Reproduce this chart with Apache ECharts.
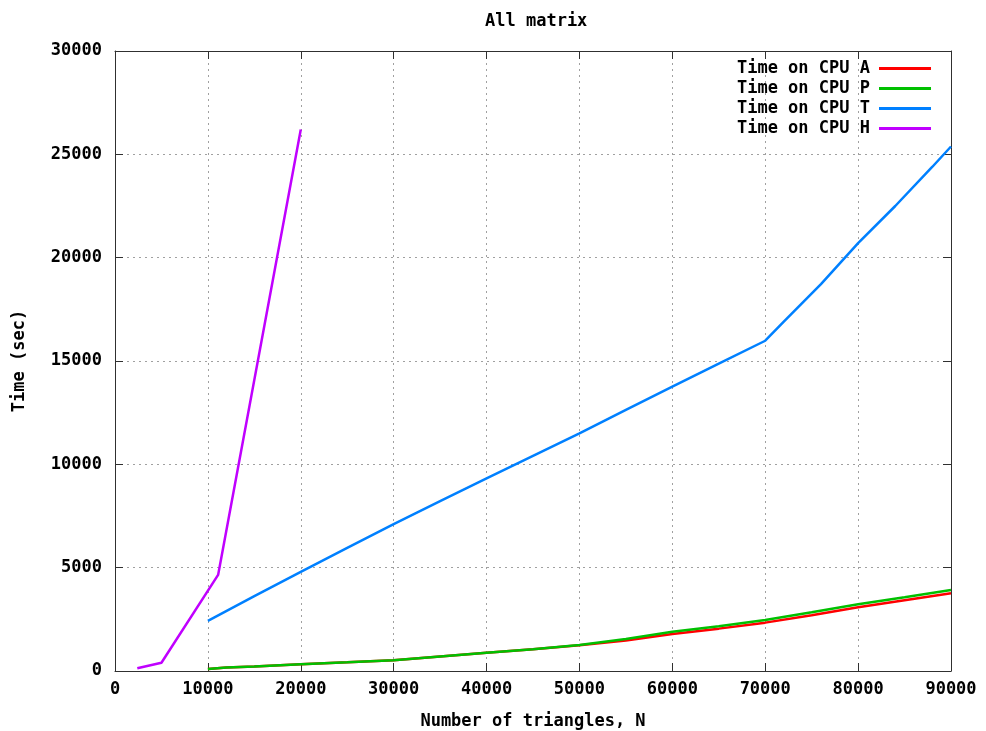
<!DOCTYPE html>
<html>
<head>
<meta charset="utf-8">
<script src="https://cdn.jsdelivr.net/npm/echarts@6/dist/echarts.min.js"></script>
<style>html,body{margin:0;padding:0;background:#fff}#c{width:986px;height:731px}</style>
</head>
<body>
<div id="c"></div>
<script>
const seriesNames = ['Time on CPU A', 'Time on CPU P', 'Time on CPU T', 'Time on CPU H'];
const nA = [10000, 12000, 15000, 20000, 25000, 30000, 35000, 40000, 45000, 50000, 55000, 60000, 65000, 70000, 75000, 80000, 85000, 90000];
const timeA = [100, 170, 220, 330, 420, 520, 700, 880, 1050, 1250, 1480, 1790, 2050, 2340, 2700, 3080, 3420, 3760];
const nP = [10000, 12000, 15000, 20000, 25000, 30000, 35000, 40000, 45000, 50000, 55000, 60000, 65000, 70000, 75000, 80000, 85000, 90000];
const timeP = [100, 170, 220, 330, 420, 520, 700, 880, 1050, 1260, 1550, 1900, 2170, 2470, 2840, 3230, 3570, 3920];
const nT = [10000, 15000, 20000, 25000, 30000, 35000, 40000, 45000, 50000, 55000, 60000, 65000, 70000, 72000, 76000, 80000, 84000, 88000, 90000];
const timeT = [2430, 3620, 4800, 5960, 7110, 8220, 9320, 10410, 11500, 12630, 13755, 14870, 15980, 16900, 18720, 20700, 22500, 24400, 25380];
const nH = [2400, 5000, 11100, 20000];
const timeH = [130, 400, 4650, 26200];
const xTicks = [0, 10000, 20000, 30000, 40000, 50000, 60000, 70000, 80000, 90000];
const yTicks = [0, 5000, 10000, 15000, 20000, 25000, 30000];
const colors = ['#ff0000', '#00c000', '#0080ff', '#c000ff'];

const FONT = 'DejaVu Sans Mono';
const pairs = (xs, ys) => xs.map((x, i) => [x, ys[i]]);
const data = [pairs(nA, timeA), pairs(nP, timeP), pairs(nT, timeT), pairs(nH, timeH)];

const axisLineStyle = { color: '#303030', width: 1 };
const gridLine = { show: true, lineStyle: { color: '#a0a0a0', type: [2, 4], width: 1 } };
const txt = { fontFamily: FONT, fontWeight: 'bold', fontSize: 17, color: '#000' };
const plain = v => String(v);

const chart = echarts.init(document.getElementById('c'), null, { renderer: 'canvas' });
chart.setOption({
  animation: false,
  backgroundColor: '#fff',
  title: {
    text: 'All matrix', left: 480, top: 8,
    textStyle: Object.assign({}, txt)
  },
  legend: {
    data: seriesNames, orient: 'vertical', right: 55, top: 60, padding: 0,
    align: 'right', icon: 'rect', itemWidth: 52, itemHeight: 3, itemGap: 3,
    textStyle: Object.assign({}, txt, { padding: [0, 4, 0, 0] })
  },
  grid: { left: 115, right: 35, top: 51, bottom: 60, containLabel: false, outerBoundsMode: 'none' },
  xAxis: [{
    type: 'value', min: xTicks[0], max: xTicks[xTicks.length - 1], interval: xTicks[1] - xTicks[0],
    name: 'Number of triangles, N', nameLocation: 'middle', nameGap: 42,
    nameTextStyle: txt,
    axisLine: { show: true, onZero: false, lineStyle: axisLineStyle },
    axisTick: { show: true, inside: true, length: 8, lineStyle: axisLineStyle },
    axisLabel: Object.assign({ margin: 10, formatter: plain }, txt),
    splitLine: gridLine
  }, {
    type: 'value', position: 'top', min: xTicks[0], max: xTicks[xTicks.length - 1], interval: xTicks[1] - xTicks[0],
    axisLine: { show: true, onZero: false, lineStyle: axisLineStyle },
    axisTick: { show: true, inside: true, length: 8, lineStyle: axisLineStyle },
    axisLabel: { show: false }, splitLine: { show: false }
  }],
  yAxis: [{
    type: 'value', min: yTicks[0], max: yTicks[yTicks.length - 1], interval: yTicks[1] - yTicks[0],
    name: 'Time (sec)', nameLocation: 'middle', nameGap: 87, nameRotate: 90,
    nameTextStyle: txt,
    axisLine: { show: true, onZero: false, lineStyle: axisLineStyle },
    axisTick: { show: true, inside: true, length: 8, lineStyle: axisLineStyle },
    axisLabel: Object.assign({ margin: 13, formatter: plain }, txt),
    splitLine: gridLine
  }, {
    type: 'value', position: 'right', min: yTicks[0], max: yTicks[yTicks.length - 1], interval: yTicks[1] - yTicks[0],
    axisLine: { show: true, onZero: false, lineStyle: axisLineStyle },
    axisTick: { show: true, inside: true, length: 8, lineStyle: axisLineStyle },
    axisLabel: { show: false }, splitLine: { show: false }
  }],
  series: seriesNames.map((name, i) => ({
    name, type: 'line', data: data[i], xAxisIndex: 0, yAxisIndex: 0,
    showSymbol: false, symbol: 'none', color: colors[i],
    lineStyle: { color: colors[i], width: 2.5 }, z: 2 + i
  }))
});
</script>
</body>
</html>
